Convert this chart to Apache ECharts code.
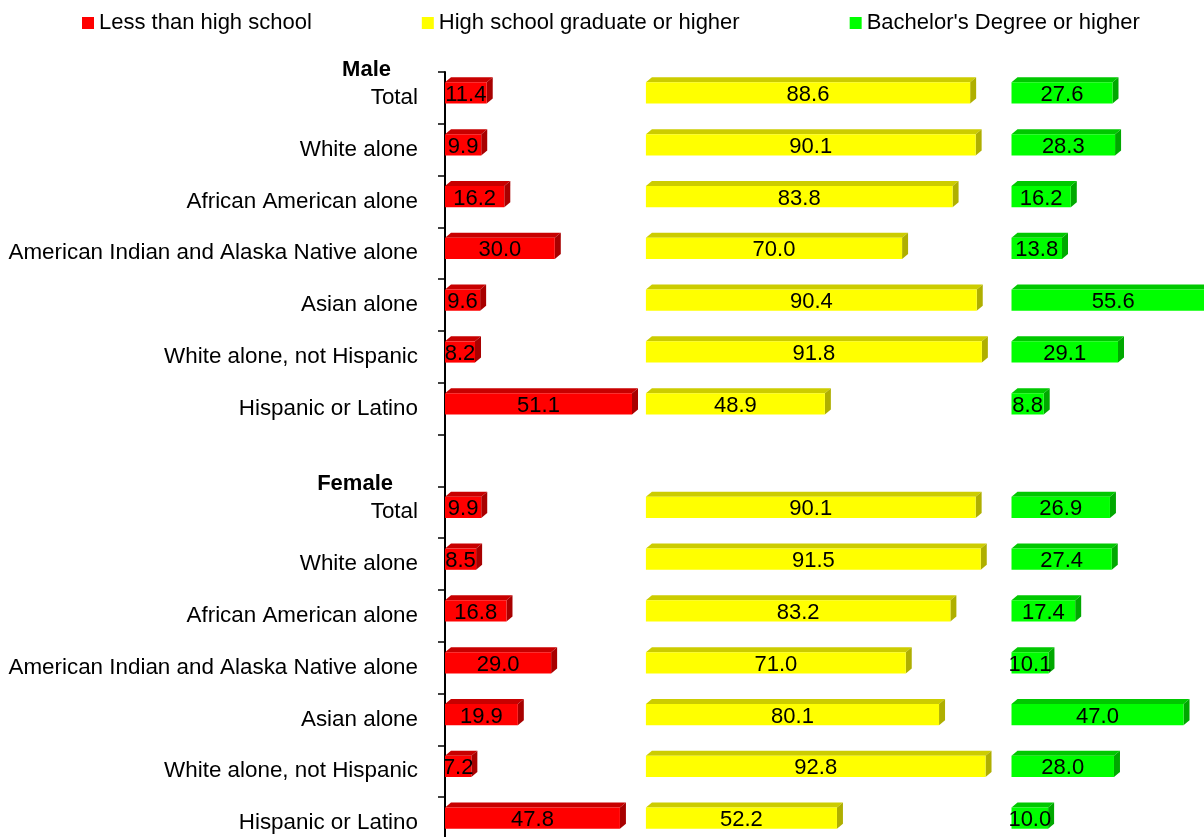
<!DOCTYPE html>
<html>
<head>
<meta charset="utf-8">
<title>Educational attainment by race and sex</title>
<script src="https://cdn.jsdelivr.net/npm/echarts@6/dist/echarts.min.js"></script>
<style>
  html, body { margin: 0; padding: 0; background: #fff; }
  #chart { width: 1204px; height: 837px; }
</style>
</head>
<body>
<div id="chart"></div>
<script>
var races = [
  "Total",
  "White alone",
  "African American alone",
  "American Indian and Alaska Native alone",
  "Asian alone",
  "White alone, not Hispanic",
  "Hispanic or Latino"
];
var seriesNames = ["Less than high school", "High school graduate or higher", "Bachelor's Degree or higher"];

var maleLess = [11.4, 9.9, 16.2, 30.0, 9.6, 8.2, 51.1];
var maleHigh = [88.6, 90.1, 83.8, 70.0, 90.4, 91.8, 48.9];
var maleBach = [27.6, 28.3, 16.2, 13.8, 55.6, 29.1, 8.8];

var femaleLess = [9.9, 8.5, 16.8, 29.0, 19.9, 7.2, 47.8];
var femaleHigh = [90.1, 91.5, 83.2, 71.0, 80.1, 92.8, 52.2];
var femaleBach = [26.9, 27.4, 17.4, 10.1, 47.0, 28.0, 10.0];

var FONT = "Liberation Sans, Arial, sans-serif";
// three panels share one value axis, each starts at its own base
var PANEL_BASE = [0, 54.9, 154.8];
var DEPTH_X = 6, DEPTH_Y = 5;

// male rows, one blank row, female rows
var categories = races.concat([""], races);
var FEMALE_START = races.length + 1;

function toRows(male, female) {
  var rows = [];
  male.forEach(function (v, i) { rows.push([i, v]); });
  female.forEach(function (v, i) { rows.push([FEMALE_START + i, v]); });
  return rows;
}

function barRenderer(base, front, top, side) {
  return function (params, api) {
    var cat = api.value(0), val = api.value(1);
    var p0 = api.coord([base, cat]);
    var p1 = api.coord([base + val, cat]);
    var band = api.size([0, 1])[1];
    var x0 = p0[0], x1 = p1[0];
    var h = band * 0.41;
    var y0 = p0[1] - band * 0.3, y1 = y0 + h;
    return {
      type: "group",
      children: [
        {
          type: "polygon",
          shape: { points: [[x0, y0], [x0 + DEPTH_X, y0 - DEPTH_Y], [x1 + DEPTH_X, y0 - DEPTH_Y], [x1, y0]] },
          style: { fill: top }
        },
        {
          type: "polygon",
          shape: { points: [[x1, y0], [x1 + DEPTH_X, y0 - DEPTH_Y], [x1 + DEPTH_X, y1 - DEPTH_Y], [x1, y1]] },
          style: { fill: side }
        },
        {
          type: "rect",
          shape: { x: x0, y: y0, width: x1 - x0, height: h },
          style: { fill: front }
        },
        {
          type: "text",
          x: (x0 + x1) / 2,
          y: y0 + h / 2 + 2,
          style: {
            text: val.toFixed(1),
            fill: "#000",
            fontSize: 22,
            fontFamily: FONT,
            align: "center",
            verticalAlign: "middle"
          }
        }
      ]
    };
  };
}

var chart = echarts.init(document.getElementById("chart"));

chart.setOption({
  animation: false,
  textStyle: { fontFamily: FONT },
  legend: {
    left: 77,
    top: 7,
    icon: "rect",
    itemWidth: 12,
    itemHeight: 12,
    itemGap: 110,
    textStyle: { fontSize: 22, color: "#000", fontFamily: FONT },
    data: seriesNames
  },
  grid: {
    left: 445,
    right: 0,
    top: 72,
    height: 777,
    containLabel: false,
    outerBoundsMode: "none"
  },
  xAxis: {
    type: "value",
    min: 0,
    max: 207.4,
    show: false
  },
  yAxis: {
    type: "category",
    inverse: true,
    data: categories,
    offset: 7,
    axisLine: { show: true, lineStyle: { color: "#000", width: 2 } },
    axisTick: { show: true, length: 7, lineStyle: { color: "#000", width: 1.5 } },
    axisLabel: {
      margin: 20,
      fontSize: 22.4,
      color: "#000",
      fontFamily: FONT,
      interval: 0,
      formatter: function (value, index) {
        if (index === 0) return "{m|Male}\n{n|" + value + "}\n{n| }";
        if (index === FEMALE_START) return "{f|Female}\n{n|" + value + "}\n{n| }";
        return value;
      },
      rich: {
        m: { fontSize: 22, fontWeight: "bold", color: "#000", lineHeight: 28, padding: [0, 27, 0, 0], fontFamily: FONT },
        f: { fontSize: 22, fontWeight: "bold", color: "#000", lineHeight: 28, padding: [0, 25, 0, 0], fontFamily: FONT },
        n: { fontSize: 22.4, color: "#000", lineHeight: 28, fontFamily: FONT }
      }
    },
    splitLine: { show: false }
  },
  series: [
    {
      name: seriesNames[0],
      type: "custom",
      itemStyle: { color: "#FF0000" },
      encode: { x: 1, y: 0 },
      renderItem: barRenderer(PANEL_BASE[0], "#FF0000", "#C80000", "#A80000"),
      data: toRows(maleLess, femaleLess)
    },
    {
      name: seriesNames[1],
      type: "custom",
      itemStyle: { color: "#FFFF00" },
      encode: { x: 1, y: 0 },
      renderItem: barRenderer(PANEL_BASE[1], "#FFFF00", "#CCCC00", "#AFAF00"),
      data: toRows(maleHigh, femaleHigh)
    },
    {
      name: seriesNames[2],
      type: "custom",
      itemStyle: { color: "#00FF00" },
      encode: { x: 1, y: 0 },
      renderItem: barRenderer(PANEL_BASE[2], "#00FF00", "#00C800", "#00A800"),
      data: toRows(maleBach, femaleBach)
    }
  ]
});
</script>
</body>
</html>
